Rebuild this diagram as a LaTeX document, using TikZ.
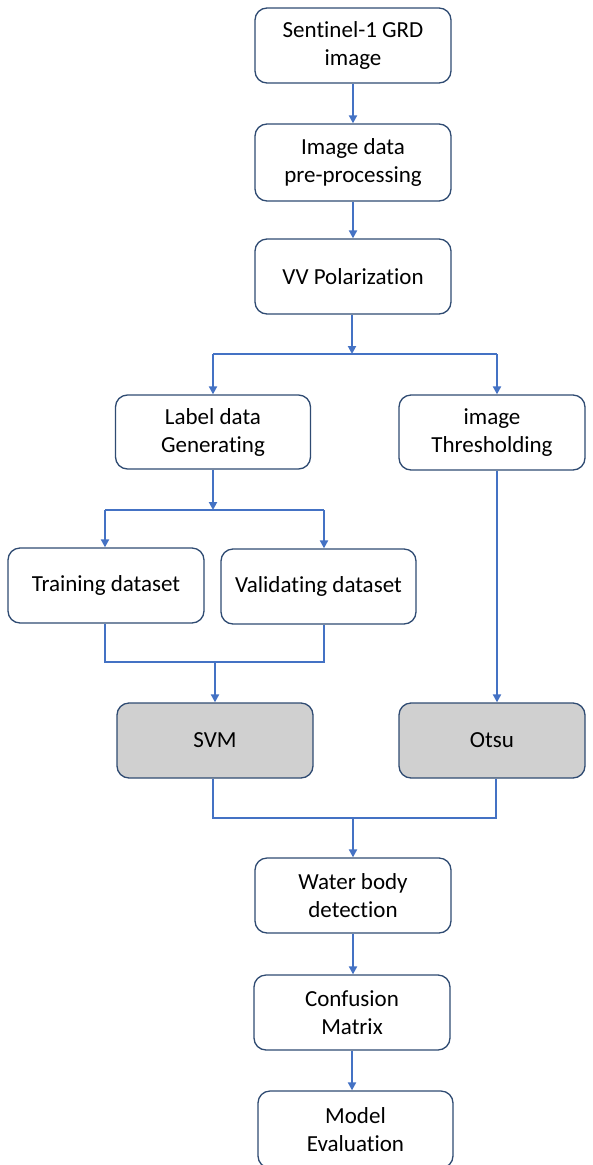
\documentclass[tikz,border=0pt]{standalone}
\usepackage{fontspec}
\setmainfont{Carlito}[Ligatures={NoCommon}]
\usetikzlibrary{arrows.meta}
\definecolor{boxline}{HTML}{2F4B72}
\definecolor{arrowblue}{HTML}{4472C4}
\definecolor{boxgray}{HTML}{D0D0D0}
\tikzset{
  stepbox/.style={draw=boxline, line width=1.3pt, rounded corners=12pt, fill=white,
    align=center, inner sep=2pt, font=\fontsize{23}{28}\selectfont, text=black},
  graybox/.style={stepbox, fill=boxgray},
  conn/.style={draw=arrowblue, line width=2pt},
  arr/.style={conn, -{Triangle[length=8pt,width=8pt]}}
}
\begin{document}
\begin{tikzpicture}[x=1pt,y=-1pt]
\useasboundingbox (0,0) rectangle (592,1165);
\node[stepbox, minimum width=196pt, minimum height=75pt] (b1) at (353,45.5) {Sentinel-1 GRD\\image};
\node[stepbox, minimum width=196pt, minimum height=77pt] (b2) at (353,162.5) {Image data\\pre-processing};
\node[stepbox, minimum width=196pt, minimum height=75pt] (b3) at (353,276.5) {VV Polarization};
\node[stepbox, minimum width=195pt, minimum height=74pt] (b4) at (213,432) {Label data\\Generating};
\node[stepbox, minimum width=186pt, minimum height=75pt] (b5) at (492,432.5) {image\\Thresholding};
\node[stepbox, minimum width=196pt, minimum height=75pt] (b6) at (106,585.5) {Training dataset};
\node[stepbox, minimum width=195pt, minimum height=75pt] (b7) at (318.5,586.5) {Validating dataset};
\node[graybox, minimum width=196pt, minimum height=75pt] (b8) at (215,740.5) {SVM};
\node[graybox, minimum width=186pt, minimum height=75pt] (b9) at (492,740.5) {Otsu};
\node[stepbox, minimum width=196pt, minimum height=75pt] (b10) at (353,895.5) {Water body\\detection};
\node[stepbox, minimum width=196pt, minimum height=75pt] (b11) at (352,1012.5) {Confusion\\Matrix};
\node[stepbox, minimum width=195pt, minimum height=77pt] (b12) at (355.5,1129.5) {Model\\Evaluation};

\coordinate (j1) at (352,354);
\coordinate (j1l) at (213,354);
\coordinate (j1r) at (497,354);
\coordinate (j2) at (213,510);
\coordinate (j2l) at (105,510);
\coordinate (j2r) at (324,510);
\coordinate (j3) at (215,662);
\coordinate (j3l) at (105,662);
\coordinate (j3r) at (324,662);
\coordinate (j4) at (353,818);
\coordinate (j4l) at (213,818);
\coordinate (j4r) at (496,818);

\draw[arr] (b1.south) -- (b2.north);
\draw[arr] (b2.south) -- (b3.north);
\draw[arr] (b3.south -| j1) -- (j1);
\draw[conn] (j1l) -- (j1r);
\draw[arr] (j1l) -- (b4.north);
\draw[arr] (j1r) -- (j1r |- b5.north);
\draw[arr] (b4.south) -- (j2);
\draw[conn] (j2l) -- (j2r);
\draw[arr] (j2l) -- (j2l |- b6.north);
\draw[arr] (j2r) -- (j2r |- b7.north);
\draw[conn] (j3l |- b6.south) -- (j3l) -- (j3r) -- (j3r |- b7.south);
\draw[arr] (j3) -- (b8.north);
\draw[arr] (j1r |- b5.south) -- (j1r |- b9.north);
\draw[conn] (j4l |- b8.south) -- (j4l) -- (j4r) -- (j4r |- b9.south);
\draw[arr] (j4) -- (b10.north);
\draw[arr] (b10.south -| j4) -- (b11.north -| j4);
\draw[arr] (b11.south) -- (b12.north -| b11.south);
\end{tikzpicture}
\end{document}
